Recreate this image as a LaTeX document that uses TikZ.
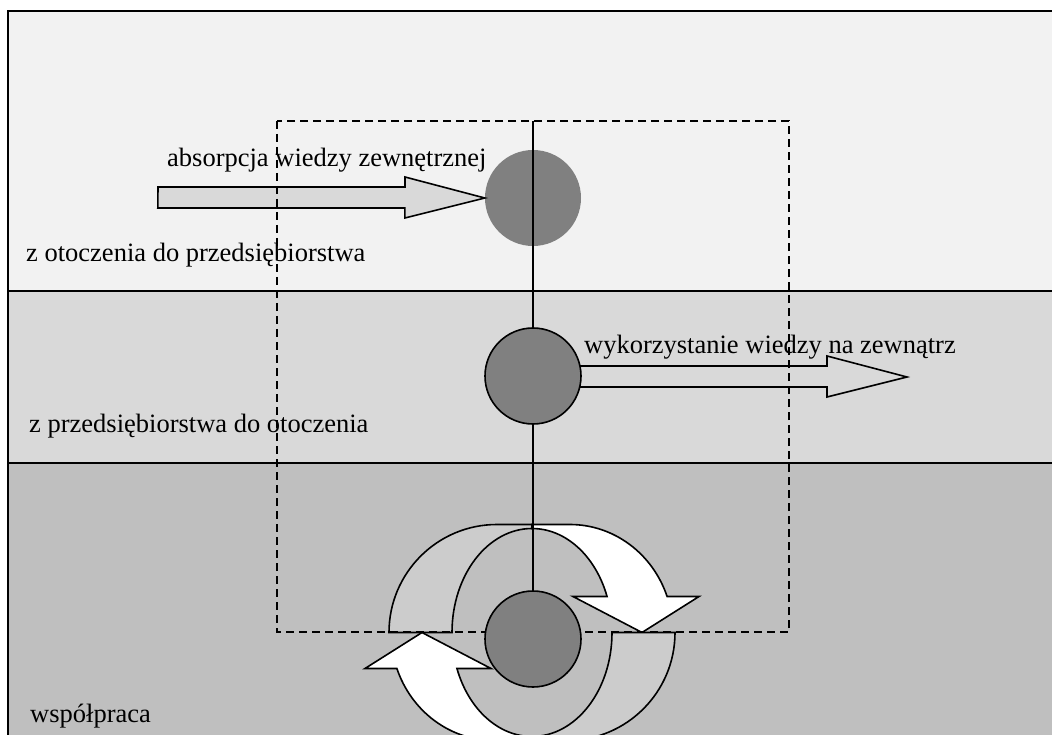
\documentclass[tikz,border=0pt]{standalone}
\usepackage{fontspec}
\setmainfont{Liberation Serif}
\definecolor{bandtop}{HTML}{F2F2F2}
\definecolor{bandmid}{HTML}{D9D9D9}
\definecolor{bandlow}{HTML}{BFBFBF}
\definecolor{flowgray}{HTML}{D9D9D9}
\definecolor{backgray}{HTML}{CCCCCC}
\definecolor{hubgray}{HTML}{808080}
\tikzset{
  band/.style={draw=black, line width=2pt},
  flow/.style={draw=black, line width=1.6pt, fill=flowgray},
  hub/.style={circle, minimum size=96pt, inner sep=0pt, fill=hubgray},
  lbl/.style={anchor=base west, inner sep=0pt, font=\fontsize{26.5}{30}\selectfont},
  halfcycle/.pic={
    \draw[flow, fill=backgray] (-143,0) arc[start angle=180, end angle=270, radius=108]
      -- (0,-108) -- (0,-104) arc[start angle=270, end angle=180, x radius=80, y radius=104] -- cycle;
    \draw[flow, fill=white] (0,-108) -- (38,-108) arc[start angle=270, end angle=340.53, x radius=103, y radius=108]
      -- (167,-36) -- (110,0) -- (41,-36) -- (75.05,-36)
      arc[start angle=339.75, end angle=270, x radius=80, y radius=104] -- cycle;
  }
}
\begin{document}
\begin{tikzpicture}[x=1pt, y=-1pt]
\useasboundingbox (0,0) rectangle (1052,735);
\clip (0,0) rectangle (1052,735);
% three zones
\fill[bandtop] (8,11) rectangle (1060,291);
\fill[bandmid] (8,291) rectangle (1060,463);
\fill[bandlow] (8,463) rectangle (1060,745);
\draw[band] (8,11) rectangle (1060,745);
\draw[band] (8,291) -- (1060,291);
\draw[band] (8,463) -- (1060,463);
% texts
\node[lbl] (absorb text) at (167,167) {absorpcja wiedzy zewnętrznej};
\node[lbl] (inward) at (26,262) {z otoczenia do przedsiębiorstwa};
\node[lbl] (outward) at (29,432) {z przedsiębiorstwa do otoczenia};
\node[lbl] (exploit text) at (584,353) {wykorzystanie wiedzy na zewnątrz};
\node[lbl] (coop text) at (30,722) {współpraca};
% hubs
\coordinate (absorb c) at (533,198);
\coordinate (exploit c) at (533,376);
\coordinate (coop c) at (533,639);
\coordinate (cycle c) at (532,632.5);
\node[hub] (absorb) at (absorb c) {};
% flows
\coordinate (absorb tail) at (158,197);
\coordinate (exploit head) at (907,377);
\draw[flow] (absorb tail) ++(0,-10) -- ++(247,0) -- ++(0,-10) -- (absorb.west)
  -- ++(-80,20) -- ++(0,-10) -- ++(-247,0) -- cycle;
\draw[flow] (exploit c) ++(0,-10) -- ++(294,0) -- ++(0,-10) -- (exploit head)
  -- ++(-80,20) -- ++(0,-10) -- ++(-294,0) -- cycle;
\pic at (cycle c) {halfcycle};
\pic[rotate=180] at (cycle c) {halfcycle};
% firm boundary
\coordinate (firm nw) at (277,121);
\coordinate (firm se) at (789,632);
\draw[line width=1.6pt, dash pattern=on 8pt off 5pt] (firm nw) rectangle (firm se);
\node[hub, draw=black, line width=1.6pt] (exploit) at (exploit c) {};
\node[hub, draw=black, line width=1.6pt] (coop) at (coop c) {};
% axis
\coordinate (axis top) at (firm nw -| absorb c);
\draw[line width=1.5pt] (axis top) -- (exploit.north);
\draw[line width=1.5pt] (exploit.south) -- (coop.north);
\end{tikzpicture}
\end{document}
